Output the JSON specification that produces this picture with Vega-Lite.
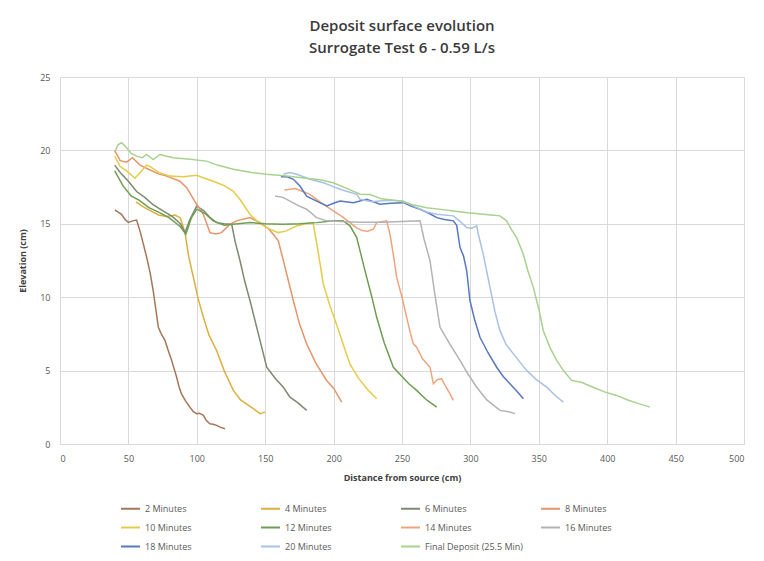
{
  "$schema": "https://vega.github.io/schema/vega-lite/v6.json",
  "width": 684,
  "height": 367,
  "autosize": {"type": "none"},
  "padding": {"left": 60, "top": 77, "right": 20, "bottom": 117},
  "background": "white",
  "title": {
    "text": ["Deposit surface evolution", "Surrogate Test 6 - 0.59 L/s"],
    "anchor": "middle",
    "frame": "group",
    "font": "Open Sans",
    "fontSize": 15,
    "fontWeight": 600,
    "color": "#3a3a3a",
    "lineHeight": 22,
    "offset": 17
  },
  "data": {
    "values": [
      {"series": "2 Minutes", "d": 40.2, "e": 15.94}, {"series": "2 Minutes", "d": 42.5, "e": 15.8}, {"series": "2 Minutes", "d": 45, "e": 15.65}, {"series": "2 Minutes", "d": 47.5, "e": 15.3}, {"series": "2 Minutes", "d": 50, "e": 15.1}, {"series": "2 Minutes", "d": 53, "e": 15.2}, {"series": "2 Minutes", "d": 56, "e": 15.25}, {"series": "2 Minutes", "d": 58.5, "e": 14.5}, {"series": "2 Minutes", "d": 61, "e": 13.6}, {"series": "2 Minutes", "d": 63.4, "e": 12.7}, {"series": "2 Minutes", "d": 66, "e": 11.6}, {"series": "2 Minutes", "d": 68.2, "e": 10.4}, {"series": "2 Minutes", "d": 70, "e": 9.2}, {"series": "2 Minutes", "d": 71.9, "e": 7.95}, {"series": "2 Minutes", "d": 74, "e": 7.5}, {"series": "2 Minutes", "d": 76.8, "e": 7.04}, {"series": "2 Minutes", "d": 79, "e": 6.4}, {"series": "2 Minutes", "d": 81.6, "e": 5.7}, {"series": "2 Minutes", "d": 83.5, "e": 5.1}, {"series": "2 Minutes", "d": 85.3, "e": 4.55}, {"series": "2 Minutes", "d": 87, "e": 3.9}, {"series": "2 Minutes", "d": 88.9, "e": 3.4}, {"series": "2 Minutes", "d": 92, "e": 2.9}, {"series": "2 Minutes", "d": 95, "e": 2.5}, {"series": "2 Minutes", "d": 97.5, "e": 2.2}, {"series": "2 Minutes", "d": 99.9, "e": 2.06}, {"series": "2 Minutes", "d": 102, "e": 2.1}, {"series": "2 Minutes", "d": 104.8, "e": 1.95}, {"series": "2 Minutes", "d": 107, "e": 1.6}, {"series": "2 Minutes", "d": 109.6, "e": 1.38}, {"series": "2 Minutes", "d": 112, "e": 1.35}, {"series": "2 Minutes", "d": 114.5, "e": 1.27}, {"series": "2 Minutes", "d": 117, "e": 1.15}, {"series": "2 Minutes", "d": 120.6, "e": 1.04},

      {"series": "4 Minutes", "d": 55.5, "e": 16.5}, {"series": "4 Minutes", "d": 60, "e": 16.2}, {"series": "4 Minutes", "d": 66, "e": 15.9}, {"series": "4 Minutes", "d": 72, "e": 15.6}, {"series": "4 Minutes", "d": 78, "e": 15.5}, {"series": "4 Minutes", "d": 84, "e": 15.6}, {"series": "4 Minutes", "d": 88, "e": 15.4}, {"series": "4 Minutes", "d": 91.4, "e": 14.4}, {"series": "4 Minutes", "d": 94, "e": 12.8}, {"series": "4 Minutes", "d": 97.5, "e": 11.35}, {"series": "4 Minutes", "d": 101, "e": 9.9}, {"series": "4 Minutes", "d": 104.8, "e": 8.63}, {"series": "4 Minutes", "d": 109, "e": 7.4}, {"series": "4 Minutes", "d": 114.5, "e": 6.37}, {"series": "4 Minutes", "d": 120, "e": 5.0}, {"series": "4 Minutes", "d": 126.7, "e": 3.65}, {"series": "4 Minutes", "d": 132, "e": 3.0}, {"series": "4 Minutes", "d": 140, "e": 2.5}, {"series": "4 Minutes", "d": 146.2, "e": 2.07}, {"series": "4 Minutes", "d": 149.9, "e": 2.17},

      {"series": "6 Minutes", "d": 40, "e": 19.0}, {"series": "6 Minutes", "d": 44, "e": 18.5}, {"series": "6 Minutes", "d": 50, "e": 17.9}, {"series": "6 Minutes", "d": 56, "e": 17.2}, {"series": "6 Minutes", "d": 62, "e": 16.8}, {"series": "6 Minutes", "d": 68, "e": 16.3}, {"series": "6 Minutes", "d": 75, "e": 15.9}, {"series": "6 Minutes", "d": 82, "e": 15.5}, {"series": "6 Minutes", "d": 88, "e": 15.0}, {"series": "6 Minutes", "d": 91.4, "e": 14.4}, {"series": "6 Minutes", "d": 95, "e": 15.3}, {"series": "6 Minutes", "d": 99.9, "e": 16.2}, {"series": "6 Minutes", "d": 105, "e": 15.9}, {"series": "6 Minutes", "d": 110, "e": 15.4}, {"series": "6 Minutes", "d": 114.5, "e": 15.08}, {"series": "6 Minutes", "d": 120, "e": 15.0}, {"series": "6 Minutes", "d": 125.5, "e": 14.97}, {"series": "6 Minutes", "d": 128, "e": 13.8}, {"series": "6 Minutes", "d": 131.6, "e": 12.48}, {"series": "6 Minutes", "d": 135, "e": 11.1}, {"series": "6 Minutes", "d": 138.9, "e": 9.76}, {"series": "6 Minutes", "d": 145, "e": 7.5}, {"series": "6 Minutes", "d": 151.1, "e": 5.23}, {"series": "6 Minutes", "d": 158, "e": 4.4}, {"series": "6 Minutes", "d": 163, "e": 3.9}, {"series": "6 Minutes", "d": 168.1, "e": 3.19}, {"series": "6 Minutes", "d": 174, "e": 2.8}, {"series": "6 Minutes", "d": 180.3, "e": 2.29},

      {"series": "8 Minutes", "d": 40, "e": 20.0}, {"series": "8 Minutes", "d": 44, "e": 19.3}, {"series": "8 Minutes", "d": 48.7, "e": 19.2}, {"series": "8 Minutes", "d": 53, "e": 19.5}, {"series": "8 Minutes", "d": 58.5, "e": 19.0}, {"series": "8 Minutes", "d": 65, "e": 18.7}, {"series": "8 Minutes", "d": 72, "e": 18.4}, {"series": "8 Minutes", "d": 78, "e": 18.25}, {"series": "8 Minutes", "d": 87.7, "e": 17.9}, {"series": "8 Minutes", "d": 92.6, "e": 17.46}, {"series": "8 Minutes", "d": 99.9, "e": 16.33}, {"series": "8 Minutes", "d": 104.8, "e": 15.65}, {"series": "8 Minutes", "d": 109.6, "e": 14.4}, {"series": "8 Minutes", "d": 114, "e": 14.3}, {"series": "8 Minutes", "d": 118, "e": 14.4}, {"series": "8 Minutes", "d": 124.3, "e": 14.97}, {"series": "8 Minutes", "d": 129.1, "e": 15.2}, {"series": "8 Minutes", "d": 138.9, "e": 15.42}, {"series": "8 Minutes", "d": 146.2, "e": 15.08}, {"series": "8 Minutes", "d": 152, "e": 14.7}, {"series": "8 Minutes", "d": 155.9, "e": 14.29}, {"series": "8 Minutes", "d": 159.6, "e": 13.84}, {"series": "8 Minutes", "d": 163.3, "e": 12.48}, {"series": "8 Minutes", "d": 170.6, "e": 9.76}, {"series": "8 Minutes", "d": 175, "e": 8.2}, {"series": "8 Minutes", "d": 180.3, "e": 6.82}, {"series": "8 Minutes", "d": 187, "e": 5.5}, {"series": "8 Minutes", "d": 194.9, "e": 4.33}, {"series": "8 Minutes", "d": 200, "e": 3.8}, {"series": "8 Minutes", "d": 205.9, "e": 2.86},

      {"series": "10 Minutes", "d": 40, "e": 19.6}, {"series": "10 Minutes", "d": 44, "e": 18.9}, {"series": "10 Minutes", "d": 48.7, "e": 18.6}, {"series": "10 Minutes", "d": 54.8, "e": 18.1}, {"series": "10 Minutes", "d": 58.5, "e": 18.5}, {"series": "10 Minutes", "d": 63.3, "e": 19.0}, {"series": "10 Minutes", "d": 66, "e": 18.9}, {"series": "10 Minutes", "d": 72, "e": 18.5}, {"series": "10 Minutes", "d": 80.4, "e": 18.25}, {"series": "10 Minutes", "d": 90, "e": 18.2}, {"series": "10 Minutes", "d": 100, "e": 18.3}, {"series": "10 Minutes", "d": 104.7, "e": 18.14}, {"series": "10 Minutes", "d": 112, "e": 17.9}, {"series": "10 Minutes", "d": 120, "e": 17.6}, {"series": "10 Minutes", "d": 126.6, "e": 17.23}, {"series": "10 Minutes", "d": 132, "e": 16.6}, {"series": "10 Minutes", "d": 138.8, "e": 15.65}, {"series": "10 Minutes", "d": 145, "e": 15.1}, {"series": "10 Minutes", "d": 151, "e": 14.74}, {"series": "10 Minutes", "d": 159.4, "e": 14.4}, {"series": "10 Minutes", "d": 165, "e": 14.5}, {"series": "10 Minutes", "d": 172.8, "e": 14.85}, {"series": "10 Minutes", "d": 180, "e": 15.0}, {"series": "10 Minutes", "d": 185, "e": 15.08}, {"series": "10 Minutes", "d": 188, "e": 13.5}, {"series": "10 Minutes", "d": 192.5, "e": 10.9}, {"series": "10 Minutes", "d": 197, "e": 9.5}, {"series": "10 Minutes", "d": 202, "e": 8.2}, {"series": "10 Minutes", "d": 207, "e": 6.8}, {"series": "10 Minutes", "d": 211.9, "e": 5.45}, {"series": "10 Minutes", "d": 218, "e": 4.5}, {"series": "10 Minutes", "d": 225, "e": 3.7}, {"series": "10 Minutes", "d": 231.5, "e": 3.08},

      {"series": "12 Minutes", "d": 40, "e": 18.6}, {"series": "12 Minutes", "d": 46, "e": 17.6}, {"series": "12 Minutes", "d": 52, "e": 16.9}, {"series": "12 Minutes", "d": 58, "e": 16.6}, {"series": "12 Minutes", "d": 65, "e": 16.1}, {"series": "12 Minutes", "d": 72, "e": 15.8}, {"series": "12 Minutes", "d": 80, "e": 15.4}, {"series": "12 Minutes", "d": 88, "e": 14.8}, {"series": "12 Minutes", "d": 92, "e": 14.3}, {"series": "12 Minutes", "d": 96, "e": 15.4}, {"series": "12 Minutes", "d": 100, "e": 16.0}, {"series": "12 Minutes", "d": 106, "e": 15.7}, {"series": "12 Minutes", "d": 112, "e": 15.2}, {"series": "12 Minutes", "d": 120, "e": 14.9}, {"series": "12 Minutes", "d": 130, "e": 15.0}, {"series": "12 Minutes", "d": 139, "e": 15.08}, {"series": "12 Minutes", "d": 150, "e": 15.0}, {"series": "12 Minutes", "d": 163, "e": 14.97}, {"series": "12 Minutes", "d": 175, "e": 15.0}, {"series": "12 Minutes", "d": 187.6, "e": 15.08}, {"series": "12 Minutes", "d": 200, "e": 15.2}, {"series": "12 Minutes", "d": 207, "e": 15.2}, {"series": "12 Minutes", "d": 212, "e": 14.86}, {"series": "12 Minutes", "d": 216.9, "e": 14.06}, {"series": "12 Minutes", "d": 220, "e": 12.9}, {"series": "12 Minutes", "d": 224.2, "e": 11.35}, {"series": "12 Minutes", "d": 228, "e": 10.0}, {"series": "12 Minutes", "d": 231.5, "e": 8.63}, {"series": "12 Minutes", "d": 237, "e": 6.9}, {"series": "12 Minutes", "d": 243.7, "e": 5.23}, {"series": "12 Minutes", "d": 250, "e": 4.6}, {"series": "12 Minutes", "d": 255, "e": 4.1}, {"series": "12 Minutes", "d": 260.7, "e": 3.65}, {"series": "12 Minutes", "d": 268, "e": 3.0}, {"series": "12 Minutes", "d": 275.4, "e": 2.51},

      {"series": "14 Minutes", "d": 164, "e": 17.3}, {"series": "14 Minutes", "d": 172, "e": 17.4}, {"series": "14 Minutes", "d": 182.7, "e": 17.01}, {"series": "14 Minutes", "d": 190, "e": 16.5}, {"series": "14 Minutes", "d": 199.8, "e": 15.88}, {"series": "14 Minutes", "d": 206, "e": 15.5}, {"series": "14 Minutes", "d": 212, "e": 15.08}, {"series": "14 Minutes", "d": 217, "e": 14.7}, {"series": "14 Minutes", "d": 221.7, "e": 14.52}, {"series": "14 Minutes", "d": 225, "e": 14.5}, {"series": "14 Minutes", "d": 229, "e": 14.63}, {"series": "14 Minutes", "d": 231.5, "e": 15.08}, {"series": "14 Minutes", "d": 238.8, "e": 15.2}, {"series": "14 Minutes", "d": 241.2, "e": 14.29}, {"series": "14 Minutes", "d": 243.5, "e": 13.0}, {"series": "14 Minutes", "d": 246.1, "e": 11.35}, {"series": "14 Minutes", "d": 250, "e": 10.0}, {"series": "14 Minutes", "d": 253.4, "e": 8.63}, {"series": "14 Minutes", "d": 256, "e": 7.6}, {"series": "14 Minutes", "d": 258.3, "e": 6.82}, {"series": "14 Minutes", "d": 260.7, "e": 6.59}, {"series": "14 Minutes", "d": 265, "e": 5.8}, {"series": "14 Minutes", "d": 270.5, "e": 5.23}, {"series": "14 Minutes", "d": 272.9, "e": 4.1}, {"series": "14 Minutes", "d": 276, "e": 4.4}, {"series": "14 Minutes", "d": 279, "e": 4.44}, {"series": "14 Minutes", "d": 282, "e": 3.9}, {"series": "14 Minutes", "d": 285.1, "e": 3.42}, {"series": "14 Minutes", "d": 287.5, "e": 2.97},

      {"series": "16 Minutes", "d": 157.2, "e": 16.9}, {"series": "16 Minutes", "d": 163, "e": 16.8}, {"series": "16 Minutes", "d": 168.1, "e": 16.55}, {"series": "16 Minutes", "d": 175, "e": 16.2}, {"series": "16 Minutes", "d": 180.3, "e": 15.99}, {"series": "16 Minutes", "d": 187.6, "e": 15.42}, {"series": "16 Minutes", "d": 195, "e": 15.2}, {"series": "16 Minutes", "d": 205, "e": 15.15}, {"series": "16 Minutes", "d": 220, "e": 15.1}, {"series": "16 Minutes", "d": 235, "e": 15.1}, {"series": "16 Minutes", "d": 250, "e": 15.15}, {"series": "16 Minutes", "d": 263.2, "e": 15.2}, {"series": "16 Minutes", "d": 266, "e": 14.0}, {"series": "16 Minutes", "d": 270.5, "e": 12.48}, {"series": "16 Minutes", "d": 274, "e": 10.2}, {"series": "16 Minutes", "d": 277.8, "e": 7.95}, {"series": "16 Minutes", "d": 285, "e": 6.8}, {"series": "16 Minutes", "d": 292.4, "e": 5.69}, {"series": "16 Minutes", "d": 298, "e": 4.8}, {"series": "16 Minutes", "d": 304.6, "e": 3.87}, {"series": "16 Minutes", "d": 312, "e": 3.0}, {"series": "16 Minutes", "d": 321.6, "e": 2.29}, {"series": "16 Minutes", "d": 328, "e": 2.2}, {"series": "16 Minutes", "d": 332.6, "e": 2.07},

      {"series": "18 Minutes", "d": 161.5, "e": 18.2}, {"series": "18 Minutes", "d": 166, "e": 18.2}, {"series": "18 Minutes", "d": 170.6, "e": 18.03}, {"series": "18 Minutes", "d": 175.4, "e": 17.57}, {"series": "18 Minutes", "d": 180.3, "e": 16.89}, {"series": "18 Minutes", "d": 187.6, "e": 16.55}, {"series": "18 Minutes", "d": 195, "e": 16.22}, {"series": "18 Minutes", "d": 200, "e": 16.4}, {"series": "18 Minutes", "d": 204.7, "e": 16.55}, {"series": "18 Minutes", "d": 214.4, "e": 16.44}, {"series": "18 Minutes", "d": 224.2, "e": 16.67}, {"series": "18 Minutes", "d": 233.9, "e": 16.33}, {"series": "18 Minutes", "d": 242, "e": 16.4}, {"series": "18 Minutes", "d": 251, "e": 16.44}, {"series": "18 Minutes", "d": 257, "e": 16.2}, {"series": "18 Minutes", "d": 263.2, "e": 15.99}, {"series": "18 Minutes", "d": 270, "e": 15.7}, {"series": "18 Minutes", "d": 275.4, "e": 15.42}, {"series": "18 Minutes", "d": 281, "e": 15.3}, {"series": "18 Minutes", "d": 287.5, "e": 15.2}, {"series": "18 Minutes", "d": 290, "e": 14.9}, {"series": "18 Minutes", "d": 292.4, "e": 13.38}, {"series": "18 Minutes", "d": 295, "e": 12.8}, {"series": "18 Minutes", "d": 297.3, "e": 11.8}, {"series": "18 Minutes", "d": 299.7, "e": 9.76}, {"series": "18 Minutes", "d": 303, "e": 8.5}, {"series": "18 Minutes", "d": 307, "e": 7.27}, {"series": "18 Minutes", "d": 313, "e": 6.2}, {"series": "18 Minutes", "d": 319.2, "e": 5.23}, {"series": "18 Minutes", "d": 324, "e": 4.6}, {"series": "18 Minutes", "d": 328.9, "e": 4.1}, {"series": "18 Minutes", "d": 334, "e": 3.6}, {"series": "18 Minutes", "d": 338.7, "e": 3.08},

      {"series": "20 Minutes", "d": 163.2, "e": 18.37}, {"series": "20 Minutes", "d": 168, "e": 18.5}, {"series": "20 Minutes", "d": 173, "e": 18.37}, {"series": "20 Minutes", "d": 178, "e": 18.2}, {"series": "20 Minutes", "d": 182.7, "e": 18.03}, {"series": "20 Minutes", "d": 192.5, "e": 17.8}, {"series": "20 Minutes", "d": 198, "e": 17.6}, {"series": "20 Minutes", "d": 204.7, "e": 17.35}, {"series": "20 Minutes", "d": 210, "e": 17.2}, {"series": "20 Minutes", "d": 216.9, "e": 17.01}, {"series": "20 Minutes", "d": 219.3, "e": 16.67}, {"series": "20 Minutes", "d": 228, "e": 16.5}, {"series": "20 Minutes", "d": 240, "e": 16.6}, {"series": "20 Minutes", "d": 251, "e": 16.55}, {"series": "20 Minutes", "d": 260.7, "e": 16.1}, {"series": "20 Minutes", "d": 268, "e": 15.8}, {"series": "20 Minutes", "d": 275.4, "e": 15.65}, {"series": "20 Minutes", "d": 287.5, "e": 15.54}, {"series": "20 Minutes", "d": 292, "e": 15.2}, {"series": "20 Minutes", "d": 297.3, "e": 14.74}, {"series": "20 Minutes", "d": 301, "e": 14.7}, {"series": "20 Minutes", "d": 304.6, "e": 14.86}, {"series": "20 Minutes", "d": 306, "e": 14.2}, {"series": "20 Minutes", "d": 309.4, "e": 12.93}, {"series": "20 Minutes", "d": 314.3, "e": 10.67}, {"series": "20 Minutes", "d": 318, "e": 9.0}, {"series": "20 Minutes", "d": 321.6, "e": 7.72}, {"series": "20 Minutes", "d": 326, "e": 6.8}, {"series": "20 Minutes", "d": 331.4, "e": 6.14}, {"series": "20 Minutes", "d": 341.2, "e": 5.0}, {"series": "20 Minutes", "d": 348, "e": 4.4}, {"series": "20 Minutes", "d": 355.8, "e": 3.87}, {"series": "20 Minutes", "d": 362, "e": 3.3}, {"series": "20 Minutes", "d": 367.9, "e": 2.85},

      {"series": "Final Deposit (25.5 Min)", "d": 40.5, "e": 20.0}, {"series": "Final Deposit (25.5 Min)", "d": 42.6, "e": 20.4}, {"series": "Final Deposit (25.5 Min)", "d": 45.1, "e": 20.52}, {"series": "Final Deposit (25.5 Min)", "d": 48.7, "e": 20.18}, {"series": "Final Deposit (25.5 Min)", "d": 52, "e": 19.8}, {"series": "Final Deposit (25.5 Min)", "d": 56, "e": 19.61}, {"series": "Final Deposit (25.5 Min)", "d": 60, "e": 19.5}, {"series": "Final Deposit (25.5 Min)", "d": 63.3, "e": 19.72}, {"series": "Final Deposit (25.5 Min)", "d": 68.2, "e": 19.38}, {"series": "Final Deposit (25.5 Min)", "d": 73.1, "e": 19.72}, {"series": "Final Deposit (25.5 Min)", "d": 78, "e": 19.6}, {"series": "Final Deposit (25.5 Min)", "d": 82.8, "e": 19.5}, {"series": "Final Deposit (25.5 Min)", "d": 95, "e": 19.4}, {"series": "Final Deposit (25.5 Min)", "d": 107.2, "e": 19.27}, {"series": "Final Deposit (25.5 Min)", "d": 115, "e": 19.0}, {"series": "Final Deposit (25.5 Min)", "d": 126.7, "e": 18.71}, {"series": "Final Deposit (25.5 Min)", "d": 140, "e": 18.5}, {"series": "Final Deposit (25.5 Min)", "d": 151.1, "e": 18.37}, {"series": "Final Deposit (25.5 Min)", "d": 165.7, "e": 18.25}, {"series": "Final Deposit (25.5 Min)", "d": 180, "e": 18.1}, {"series": "Final Deposit (25.5 Min)", "d": 190, "e": 18.0}, {"series": "Final Deposit (25.5 Min)", "d": 199.8, "e": 17.8}, {"series": "Final Deposit (25.5 Min)", "d": 210, "e": 17.4}, {"series": "Final Deposit (25.5 Min)", "d": 219.3, "e": 17.01}, {"series": "Final Deposit (25.5 Min)", "d": 226.6, "e": 17.0}, {"series": "Final Deposit (25.5 Min)", "d": 235, "e": 16.7}, {"series": "Final Deposit (25.5 Min)", "d": 248.5, "e": 16.55}, {"series": "Final Deposit (25.5 Min)", "d": 258, "e": 16.3}, {"series": "Final Deposit (25.5 Min)", "d": 268, "e": 16.1}, {"series": "Final Deposit (25.5 Min)", "d": 277, "e": 16.0}, {"series": "Final Deposit (25.5 Min)", "d": 287.5, "e": 15.88}, {"series": "Final Deposit (25.5 Min)", "d": 298, "e": 15.75}, {"series": "Final Deposit (25.5 Min)", "d": 309.4, "e": 15.65}, {"series": "Final Deposit (25.5 Min)", "d": 315, "e": 15.6}, {"series": "Final Deposit (25.5 Min)", "d": 321.6, "e": 15.54}, {"series": "Final Deposit (25.5 Min)", "d": 326.5, "e": 15.2}, {"series": "Final Deposit (25.5 Min)", "d": 330, "e": 14.6}, {"series": "Final Deposit (25.5 Min)", "d": 333.8, "e": 14.06}, {"series": "Final Deposit (25.5 Min)", "d": 338.7, "e": 12.93}, {"series": "Final Deposit (25.5 Min)", "d": 342, "e": 11.8}, {"series": "Final Deposit (25.5 Min)", "d": 346, "e": 10.67}, {"series": "Final Deposit (25.5 Min)", "d": 350, "e": 9.2}, {"series": "Final Deposit (25.5 Min)", "d": 353.3, "e": 7.72}, {"series": "Final Deposit (25.5 Min)", "d": 358, "e": 6.6}, {"series": "Final Deposit (25.5 Min)", "d": 363.1, "e": 5.69}, {"series": "Final Deposit (25.5 Min)", "d": 368, "e": 5.0}, {"series": "Final Deposit (25.5 Min)", "d": 374, "e": 4.33}, {"series": "Final Deposit (25.5 Min)", "d": 381, "e": 4.2}, {"series": "Final Deposit (25.5 Min)", "d": 389.8, "e": 3.87}, {"series": "Final Deposit (25.5 Min)", "d": 398, "e": 3.55}, {"series": "Final Deposit (25.5 Min)", "d": 406.9, "e": 3.31}, {"series": "Final Deposit (25.5 Min)", "d": 415, "e": 3.0}, {"series": "Final Deposit (25.5 Min)", "d": 423, "e": 2.75}, {"series": "Final Deposit (25.5 Min)", "d": 431.3, "e": 2.51}
    ]
  },
  "mark": {"type": "line", "strokeWidth": 1.5},
  "encoding": {
    "x": {
      "field": "d",
      "type": "quantitative",
      "scale": {"domain": [0, 500], "nice": false, "zero": false},
      "axis": {
        "values": [0, 50, 100, 150, 200, 250, 300, 350, 400, 450, 500],
        "title": "Distance from source (cm)",
        "labelPadding": 10,
        "titlePadding": 10
      }
    },
    "y": {
      "field": "e",
      "type": "quantitative",
      "scale": {"domain": [0, 25], "nice": false},
      "axis": {
        "values": [0, 5, 10, 15, 20, 25],
        "title": "Elevation (cm)",
        "labelPadding": 10,
        "titlePadding": 12,
        "domain": false
      }
    },
    "color": {
      "field": "series",
      "type": "nominal",
      "scale": {
        "domain": ["2 Minutes", "4 Minutes", "6 Minutes", "8 Minutes", "10 Minutes", "12 Minutes", "14 Minutes", "16 Minutes", "18 Minutes", "20 Minutes", "Final Deposit (25.5 Min)"],
        "range": ["#a5775a", "#dcb03e", "#7d8a6f", "#e5956a", "#e6cb48", "#6d9e52", "#eea47c", "#b3b3b3", "#5877bf", "#a9c1e6", "#a9d18e"]
      },
      "legend": {
        "title": null,
        "orient": "none",
        "legendX": 60,
        "legendY": 421,
        "direction": "horizontal",
        "columns": 4,
        "gridAlign": "all",
        "columnPadding": 14,
        "rowPadding": 3,
        "symbolType": "stroke",
        "symbolSize": 361,
        "symbolStrokeWidth": 2,
        "labelFontSize": 9,
        "labelFont": "Open Sans",
        "labelColor": "#595959",
        "labelOffset": 4
      }
    }
  },
  "config": {
    "view": {"stroke": null},
    "axis": {
      "grid": true,
      "gridColor": "#d9d9d9",
      "gridWidth": 1,
      "ticks": false,
      "domainColor": "#d9d9d9",
      "labelFont": "Open Sans",
      "labelFontSize": 9,
      "labelColor": "#595959",
      "titleFont": "Open Sans",
      "titleFontSize": 9,
      "titleFontWeight": 700,
      "titleColor": "#404040"
    }
  }
}
